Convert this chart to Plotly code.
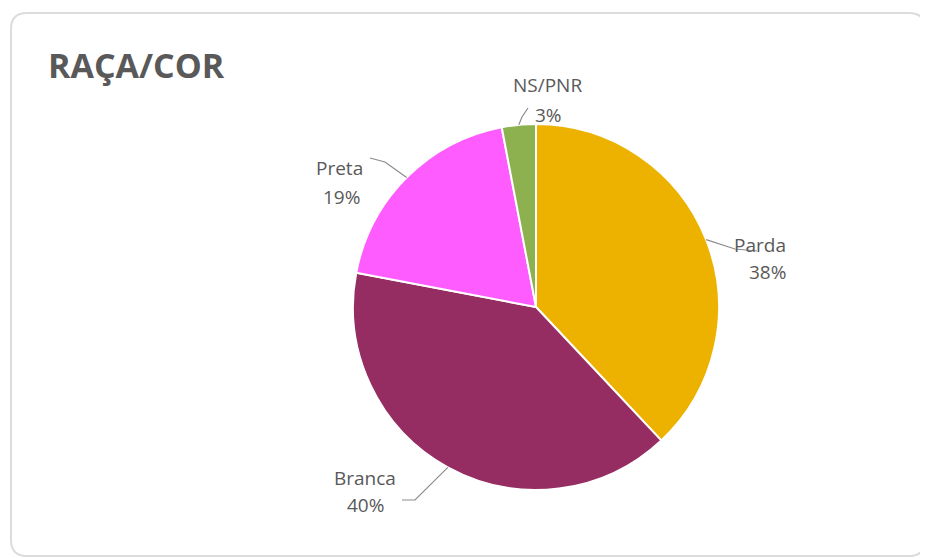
import math
import plotly.graph_objects as go

# Data
labels = ["Parda", "Branca", "Preta", "NS/PNR"]
values = [38, 40, 19, 3]
colors = ["#EDB200", "#952D62", "#FF5CFF", "#8CB14E"]

# the page body has an 8px margin, so the figure is 8px smaller and
# coordinates below are page pixels
OFF = 8
W, H = 928 - OFF, 558 - OFF
CX, CY, R = 536, 307, 183  # pie centre / radius in page pixels


def px(x):
    return (x - OFF) / W


def py(y):
    return 1 - (y - OFF) / H


fig = go.Figure()

fig.add_trace(go.Pie(
    labels=labels,
    values=values,
    sort=False,
    direction="clockwise",
    rotation=0,
    marker=dict(colors=colors, line=dict(color="white", width=2)),
    textinfo="none",
    hoverinfo="label+percent",
    domain=dict(x=[px(CX - R), px(CX + R)], y=[py(CY + R), py(CY - R)]),
    showlegend=False,
))

# label placement (page pixels): name centre, percent centre, elbow, line end
label_pos = {
    "Parda": dict(name=(788, 245), pct=(788, 272), elbow=(735, 249), end=(757, 251)),
    "Branca": dict(name=(365, 493), pct=(365, 520), elbow=(415, 500), end=(402, 500)),
    "Preta": dict(name=(339, 153), pct=(341, 182), elbow=(385, 162), end=(370, 158)),
    "NS/PNR": dict(name=(547, 70), pct=(548, 100), elbow=(522, 117), end=(528, 108)),
}

lab_font = dict(family="Open Sans", size=19, color="#595959")

total = sum(values)
cum = 0
shapes = []
annotations = []
for lab, val in zip(labels, values):
    mid = (cum + val / 2) / total * 2 * math.pi
    cum += val
    tx = CX + R * math.sin(mid)
    ty = CY - R * math.cos(mid)
    p = label_pos[lab]
    path = (f"M {px(tx)} {py(ty)} L {px(p['elbow'][0])} {py(p['elbow'][1])} "
            f"L {px(p['end'][0])} {py(p['end'][1])}")
    shapes.append(dict(type="path", xref="paper", yref="paper", path=path,
                       line=dict(color="#8C8C8C", width=1.2)))
    pct = round(val / total * 100)
    annotations.append(dict(x=px(p["name"][0]), y=py(p["name"][1]), xref="paper", yref="paper",
                            text=lab, showarrow=False, font=lab_font))
    annotations.append(dict(x=px(p["pct"][0]), y=py(p["pct"][1]), xref="paper", yref="paper",
                            text=f"{pct}%", showarrow=False, font=lab_font))

# title
annotations.append(dict(
    x=px(46), y=py(65), xref="paper", yref="paper", xanchor="left", yanchor="middle",
    text="<b>RAÇA/COR</b>", showarrow=False,
    font=dict(family="Open Sans", size=34, color="#595959"),
))

# rounded frame
x0, y0, x1, y1, rr = 11, 13, 925, 556, 16
frame = (f"M {px(x0 + rr)} {py(y0)} L {px(x1 - rr)} {py(y0)} "
         f"Q {px(x1)} {py(y0)} {px(x1)} {py(y0 + rr)} "
         f"L {px(x1)} {py(y1 - rr)} Q {px(x1)} {py(y1)} {px(x1 - rr)} {py(y1)} "
         f"L {px(x0 + rr)} {py(y1)} Q {px(x0)} {py(y1)} {px(x0)} {py(y1 - rr)} "
         f"L {px(x0)} {py(y0 + rr)} Q {px(x0)} {py(y0)} {px(x0 + rr)} {py(y0)} Z")
shapes.insert(0, dict(type="path", xref="paper", yref="paper", path=frame,
                      line=dict(color="#DCDCDC", width=2), fillcolor="white", layer="below"))

fig.update_layout(
    width=W, height=H,
    margin=dict(l=0, r=0, t=0, b=0),
    paper_bgcolor="white",
    plot_bgcolor="white",
    shapes=shapes,
    annotations=annotations,
)

fig.write_html("out.html")
